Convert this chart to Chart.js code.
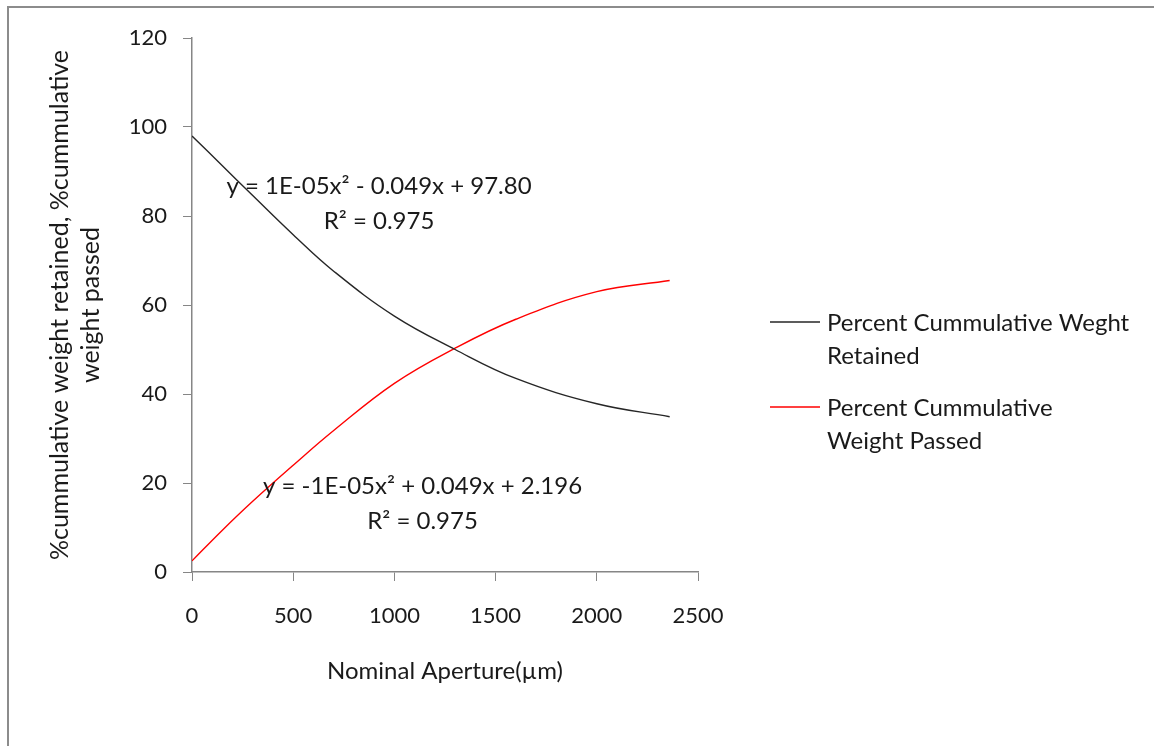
<!DOCTYPE html>
<html>
<head>
<meta charset="utf-8">
<script src="https://cdn.jsdelivr.net/npm/chart.js@4.4.1/dist/chart.umd.min.js"></script>
<style>
    html, body { margin: 0; padding: 0; background: #fff; overflow: hidden; }
    .frame {
        position: absolute; left: 7px; top: 6px; width: 1200px; height: 800px;
        border-left: 2px solid #8c8c8c; border-top: 2px solid #8c8c8c;
    }
    #grafico { position: absolute; left: 0; top: 0; }
</style>
</head>
<body>
<div class="frame"></div>
<canvas id="grafico" width="1154" height="746"></canvas>
<script>
const apertures = [0, 150, 300, 500, 700, 1000, 1300, 1600, 2000, 2360];
const retained = [98.0, 91.3, 84.6, 75.8, 67.6, 57.5, 50.0, 43.5, 37.8, 34.9];
const passed = [2.5, 9.4, 15.9, 24.0, 31.8, 42.4, 50.3, 56.8, 63.0, 65.5];

const seriesNames = [
    ['Percent Cummulative Weght', 'Retained'],
    ['Percent Cummulative', 'Weight Passed']
];
const trendTexts = [
    ['y = 1E-05x\u00b2 - 0.049x + 97.80', 'R\u00b2 = 0.975'],
    ['y = -1E-05x\u00b2 + 0.049x + 2.196', 'R\u00b2 = 0.975']
];
const xTitle = 'Nominal Aperture(\u00b5m)';
const yTitle = ['%cummulative weight retained, %cummulative', 'weight passed'];

const fontFamily = 'Lato, "Open Sans", sans-serif';
const axisColor = '#868686';
const textColor = '#1a1a1a';

// equations, legend
const extras = {
    id: 'extras',
    afterDatasetsDraw(chart) {
        const { ctx, chartArea, scales: { x, y } } = chart;
        ctx.save();
        ctx.fillStyle = textColor;
        ctx.font = '24px ' + fontFamily;
        ctx.textAlign = 'center';
        ctx.textBaseline = 'middle';
        const anchors = [
            { x: 924, y: 86.6 },
            { x: 1139, y: 19.3 }
        ];
        trendTexts.forEach((lines, i) => {
            const px = x.getPixelForValue(anchors[i].x);
            const py = y.getPixelForValue(anchors[i].y);
            lines.forEach((t, j) => ctx.fillText(t, px, py + j * 35));
        });

        // legend
        const lx = chartArea.right + 72;
        let ly = 322;
        ctx.textAlign = 'left';
        chart.data.datasets.forEach((ds, i) => {
            ctx.strokeStyle = ds.borderColor;
            ctx.lineWidth = 1.5;
            ctx.beginPath();
            ctx.moveTo(lx, ly);
            ctx.lineTo(lx + 50, ly);
            ctx.stroke();
            seriesNames[i].forEach((t, j) => ctx.fillText(t, lx + 57, ly + 1 + j * 33));
            ly += 85;
        });
        ctx.restore();
    }
};

document.addEventListener('DOMContentLoaded', function () {
    const ctx = document.getElementById('grafico');
    new Chart(ctx.getContext('2d'), {
        type: 'line',
        data: {
            labels: apertures,
            datasets: [{
                label: seriesNames[0].join(' '),
                data: apertures.map((a, i) => ({ x: a, y: retained[i] })),
                borderColor: '#262626',
                borderWidth: 1.4,
                pointRadius: 0,
                tension: 0.4
            }, {
                label: seriesNames[1].join(' '),
                data: apertures.map((a, i) => ({ x: a, y: passed[i] })),
                borderColor: '#ff0000',
                borderWidth: 1.4,
                pointRadius: 0,
                tension: 0.4
            }]
        },
        options: {
            responsive: false,
            animation: false,
            layout: { padding: { left: 0, top: 38, right: 456, bottom: 0 } },
            scales: {
                x: {
                    type: 'linear',
                    min: 0,
                    max: 2500,
                    grid: { display: true, drawOnChartArea: false, tickLength: 9, color: axisColor, tickColor: axisColor },
                    border: { color: axisColor, width: 1.5 },
                    ticks: { stepSize: 500, padding: 22, color: textColor, font: { family: fontFamily, size: 22 }, callback: value => String(value) },
                    title: { display: true, text: xTitle, color: textColor, padding: { top: 0, bottom: 60 }, font: { family: fontFamily, size: 24, lineHeight: 1.25 } },
                    afterFit: s => { s.height = 174; }
                },
                y: {
                    min: 0,
                    max: 120,
                    grid: { display: true, drawOnChartArea: false, tickLength: 9, color: axisColor, tickColor: axisColor },
                    border: { color: axisColor, width: 1.5 },
                    ticks: { stepSize: 20, padding: 16, color: textColor, font: { family: fontFamily, size: 22 } },
                    title: { display: true, text: yTitle, color: textColor, padding: { top: 44, bottom: 0 }, font: { family: fontFamily, size: 25, lineHeight: 1.25 } },
                    afterFit: s => { s.width = 192; }
                }
            },
            plugins: {
                legend: { display: false },
                tooltip: { enabled: false }
            }
        },
        plugins: [extras]
    });
});
</script>
</body>
</html>
